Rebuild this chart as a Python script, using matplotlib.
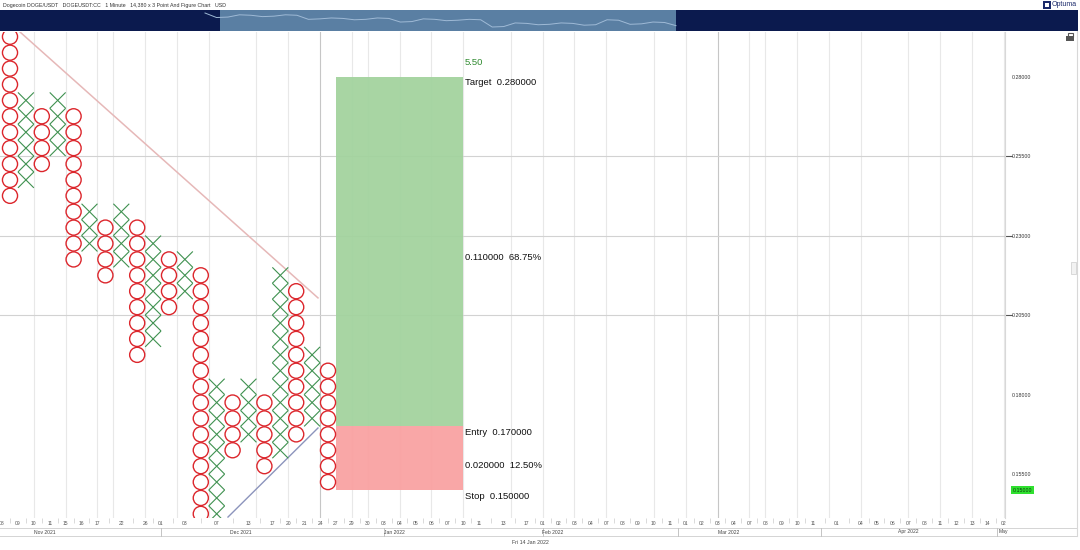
import matplotlib
matplotlib.use('Agg')
import matplotlib.pyplot as plt
from matplotlib.patches import Ellipse, Rectangle
from matplotlib.collections import LineCollection
from matplotlib.lines import Line2D
from matplotlib.transforms import blended_transform_factory
import numpy as np

plt.rcParams['font.family'] = ['Liberation Sans', 'DejaVu Sans']

# ---------------- data ----------------
title = "Dogecoin DOGE/USDT   DOGEUSDT:CC   1 Minute   14,380 x 3 Point And Figure Chart   USD"
BOX = 0.005
col_types = ['O', 'X', 'O', 'X', 'O', 'X', 'O', 'X', 'O', 'X', 'O',
             'X', 'O', 'X', 'O', 'X', 'O', 'X', 'O', 'X', 'O']
col_high = [0.290, 0.270, 0.265, 0.270, 0.265, 0.235, 0.230, 0.235, 0.230, 0.225, 0.220,
            0.220, 0.215, 0.180, 0.175, 0.180, 0.175, 0.215, 0.210, 0.190, 0.185]
col_low = [0.240, 0.245, 0.250, 0.255, 0.220, 0.225, 0.215, 0.220, 0.190, 0.195, 0.205,
           0.210, 0.135, 0.140, 0.160, 0.165, 0.155, 0.160, 0.165, 0.170, 0.150]

target = 0.28
entry = 0.17
stop = 0.15
ref_price = 0.16
last_price = 0.15

# analyst trend lines (column, price)
resist_x = [0.63, 19.37]
resist_y = [0.2940, 0.2104]
support_x = [13.71, 19.37]
support_y = [0.1415, 0.1695]

price_ticks = [0.280, 0.255, 0.230, 0.205, 0.180, 0.155]
grid_prices = [0.255, 0.230, 0.205]

tick_cols = [-0.5, 0.5, 1.5, 2.5, 3.5, 4.5, 5.5, 7.0, 8.5, 9.5, 11.0, 13.0, 15.0, 16.5,
             17.5, 18.5, 19.5, 20.5, 21.5, 22.5, 23.5, 24.5, 25.5, 26.5, 27.5, 28.5, 29.5,
             31.0, 32.5, 33.5, 34.5, 35.5, 36.5, 37.5, 38.5, 39.5, 40.5, 41.5, 42.5, 43.5,
             44.5, 45.5, 46.5, 47.5, 48.5, 49.5, 50.5, 52.0, 53.5, 54.5, 55.5, 56.5, 57.5,
             58.5, 59.5, 60.5, 61.5, 62.5]
tick_labels = ['08', '09', '10', '11', '15', '16', '17', '22', '26', '01', '03', '07', '13', '17',
               '20', '21', '24', '27', '29', '30', '03', '04', '05', '06', '07', '10', '11',
               '13', '17', '01', '02', '03', '04', '07', '08', '09', '10', '11', '01', '02',
               '03', '04', '07', '08', '09', '10', '11', '01', '04', '05', '06', '07', '08',
               '11', '12', '13', '14', '02']
grid_cols = [1.5, 3.5, 5.5, 6.5, 8.5, 10.5, 12.5, 15.5, 17.5, 19.5, 21.5, 22.5, 24.5, 26.5,
             28.5, 31.5, 33.5, 35.5, 37.5, 40.5, 42.5, 44.5, 46.5, 47.5, 49.5, 51.5, 53.5,
             56.5, 58.5, 60.5, 62.5]
dark_grid_cols = [19.5, 44.5]
months = ['Nov 2021', 'Dec 2021', 'Jan 2022', 'Feb 2022', 'Mar 2022', 'Apr 2022', 'May']
month_label_cols = [2.2, 14.5, 24.2, 34.1, 45.2, 56.5, 62.5]
month_sep_cols = [9.5, 23.5, 33.5, 42.0, 51.0, 62.1]
crosshair_date = "Fri 14 Jan 2022"

# ---------------- figure ----------------
W, H = 1080, 550
fig = plt.figure(figsize=(W / 100, H / 100), dpi=100)
fig.patch.set_facecolor('white')

def fx(px):
    return px / W

def fy(py):
    return 1 - py / H

plot_top, plot_bot, plot_right = 32, 518, 1005
ax = fig.add_axes([0, fy(plot_bot), fx(plot_right), (plot_bot - plot_top) / H])
ax.set_facecolor('white')
ax.set_xlim(-0.629, 62.58)
ax.set_ylim(0.1412, 0.2940)
for s in ['top', 'left', 'bottom']:
    ax.spines[s].set_visible(False)
ax.spines['right'].set_color('#d8d8d8')
ax.spines['right'].set_linewidth(0.8)

# grid
for c in grid_cols:
    ax.axvline(c, color='#c6c6c6' if c in dark_grid_cols else '#e8e8e8', lw=0.8, zorder=0)
for p in grid_prices:
    ax.axhline(p, color='#d2d2d2', lw=0.8, zorder=0)
    ax.plot([1.0, 1.007], [p, p], transform=ax.get_yaxis_transform(), color='#555555',
            lw=0.8, clip_on=False)

# risk / reward boxes
ax.add_patch(Rectangle((20.5, entry), 8, target - entry, facecolor='#a3d39e', edgecolor='none',
                       alpha=0.95, zorder=1))
ax.add_patch(Rectangle((20.5, stop), 8, entry - stop, facecolor='#f9a2a2', edgecolor='none',
                       alpha=0.95, zorder=1))

# P&F columns
xsegs = []
for i, (t, hi, lo) in enumerate(zip(col_types, col_high, col_low)):
    n = int(round((hi - lo) / BOX)) + 1
    levels = lo + BOX * np.arange(n)
    for lv in levels:
        if t == 'O':
            ax.add_patch(Ellipse((i, lv + BOX / 2), 0.95, 0.95 * BOX, fill=False,
                                 edgecolor='#dc262c', lw=1.0, zorder=3))
        else:
            xsegs.append([(i - 0.5, lv), (i + 0.5, lv + BOX)])
            xsegs.append([(i - 0.5, lv + BOX), (i + 0.5, lv)])
ax.add_collection(LineCollection(xsegs, colors='#3f9150', linewidths=0.8, zorder=3))

# trend lines
ax.plot(resist_x, resist_y, color='#e6b8b8', lw=1.1, zorder=2)
ax.plot(support_x, support_y, color='#8c94bc', lw=1.0, zorder=2)

# annotations
tx = 28.62
fs = 6.8
rr = (target - entry) / (entry - stop)
ax.annotate(f"{rr:.2f}", (tx, target), xytext=(0, 10.4), textcoords='offset points',
            ha='left', va='center', fontsize=fs, color='#2f8a2f')
ax.annotate(f"Target  {target:.6f}", (tx, target), xytext=(0, -4.5), textcoords='offset points',
            ha='left', va='center', fontsize=fs, color='#111111')
ax.annotate(f"{target - entry:.6f}  {(target - entry) / ref_price * 100:.2f}%",
            (tx, (target + entry) / 2), xytext=(0, -4.2), textcoords='offset points',
            ha='left', va='center', fontsize=fs, color='#111111')
ax.annotate(f"Entry  {entry:.6f}", (tx, entry), xytext=(0, -4.2), textcoords='offset points',
            ha='left', va='center', fontsize=fs, color='#111111')
ax.annotate(f"{entry - stop:.6f}  {(entry - stop) / ref_price * 100:.2f}%",
            (tx, (entry + stop) / 2), xytext=(0, -5.0), textcoords='offset points',
            ha='left', va='center', fontsize=fs, color='#111111')
ax.annotate(f"Stop  {stop:.6f}", (tx, stop), xytext=(0, -4.4), textcoords='offset points',
            ha='left', va='center', fontsize=fs, color='#111111')

# right price axis
ax.yaxis.tick_right()
ax.set_yticks(price_ticks)
ax.set_yticklabels([f"{p:.5f}" for p in price_ticks], fontsize=3.8, color='#333333')
ax.tick_params(axis='y', length=0, pad=5.2)
ax.text(1.0075, last_price, f"{last_price:.5f}", transform=ax.get_yaxis_transform(),
        fontsize=3.8, color='#0c3a0c', ha='left', va='center',
        bbox=dict(boxstyle='square,pad=0.35', facecolor='#2fe02f', edgecolor='none'))

# bottom date axis
ax.set_xticks(tick_cols)
ax.set_xticklabels(tick_labels, fontsize=3.6, color='#555555')
ax.tick_params(axis='x', length=0, pad=2.2)
mids = [(a + b) / 2 for a, b in zip(tick_cols[:-1], tick_cols[1:])]
ax.set_xticks(mids, minor=True)
ax.tick_params(axis='x', which='minor', length=3.5, width=0.5, color='#cccccc', direction='out')

bt = blended_transform_factory(ax.transData, fig.transFigure)
for yy in [528, 536]:
    fig.add_artist(Line2D([0, fx(1077)], [fy(yy), fy(yy)], color='#d4d4d4', lw=0.7))
for c in month_sep_cols:
    fig.add_artist(Line2D([c, c], [fy(528), fy(536)], transform=bt, color='#c4c4c4', lw=0.7))
for m, c in zip(months, month_label_cols):
    fig.text(c, fy(532), m, transform=bt, fontsize=3.6, color='#444444', ha='center', va='center')
fig.text(fx(530), fy(543), crosshair_date, fontsize=3.8, color='#444444', ha='center', va='center')

# right border
fig.add_artist(Line2D([fx(1077), fx(1077)], [fy(31), fy(536)], color='#d8d8d8', lw=0.8))

# navigator bar
nav = fig.add_axes([0, fy(31), fx(1078), 21 / H])
nav.set_xlim(0, 1078)
nav.set_ylim(31, 10)
nav.axis('off')
nav.add_patch(Rectangle((0, 10), 1078, 21, facecolor='#0b1a4e', edgecolor='none'))
nav.add_patch(Rectangle((220, 10), 456, 21, facecolor='#5a7fa3', edgecolor='none'))
seq = []
for t, hi, lo in zip(col_types, col_high, col_low):
    seq += [lo, hi] if t == 'X' else [hi, lo]
seq = np.array(seq)
sx = np.linspace(205, 676, len(seq))
sy = 27 - (seq - seq.min()) / (seq.max() - seq.min()) * 14
nav.plot(sx, sy, color='#9fbad6', lw=0.7)

# header
fig.text(fx(3), fy(5), title, fontsize=3.8, color='#333333', ha='left', va='center')
fig.add_artist(Rectangle((fx(1043), fy(9)), fx(8), 8 / H, transform=fig.transFigure,
                         facecolor='#1b2a6b', edgecolor='none'))
fig.add_artist(Rectangle((fx(1045), fy(7)), fx(4), 4 / H, transform=fig.transFigure,
                         facecolor='white', edgecolor='none'))
fig.text(fx(1052), fy(5), "Optuma", fontsize=5, color='#1b2a6b', ha='left', va='center')

# lock icon and side tab
fig.add_artist(Rectangle((fx(1066), fy(41)), fx(8), 5 / H, transform=fig.transFigure,
                         facecolor='#555555', edgecolor='none'))
fig.add_artist(Rectangle((fx(1067.5), fy(37)), fx(5), 4 / H, transform=fig.transFigure,
                         facecolor='none', edgecolor='#555555', lw=0.8))
fig.add_artist(Rectangle((fx(1071), fy(274)), fx(5), 12 / H, transform=fig.transFigure,
                         facecolor='#f2f2f2', edgecolor='#cccccc', lw=0.5))

fig.savefig('out.png', dpi=100, facecolor='white')
